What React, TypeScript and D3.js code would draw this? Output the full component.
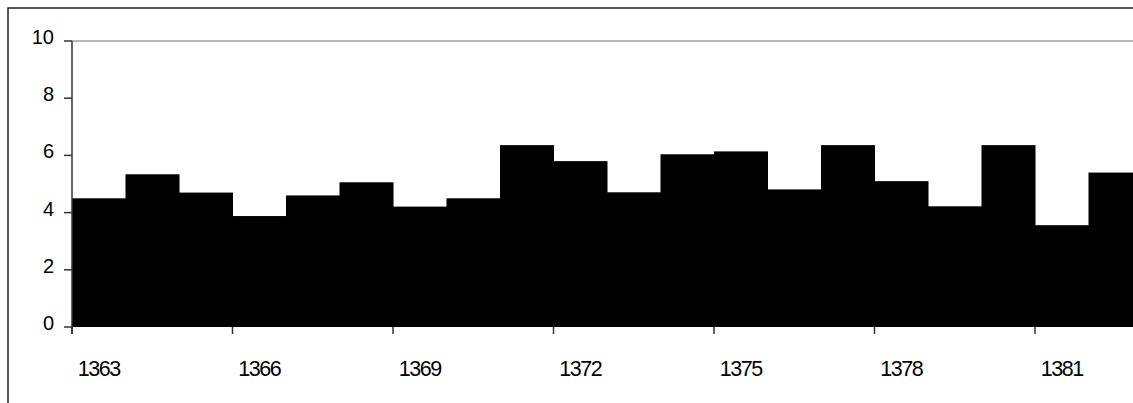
import React from "react";
import * as d3 from "d3";

const years = [1363,1364,1365,1366,1367,1368,1369,1370,1371,1372,1373,1374,1375,1376,1377,1378,1379,1380,1381,1382];
const values = [4.5,5.34,4.7,3.88,4.6,5.06,4.21,4.5,6.36,5.8,4.71,6.04,6.14,4.81,6.36,5.1,4.22,6.36,3.56,5.4];
const yTicks = [0,2,4,6,8,10];
const xLabelYears = [1363,1366,1369,1372,1375,1378,1381];

const W = 1133, H = 403;
const x0 = 72, step = 53.5;

export default function App() {
  const x = d3.scaleBand<number>().domain(years).range([x0, x0 + step * years.length]).padding(0);
  const y = d3.scaleLinear().domain([0, 10]).range([327, 41]);
  const font = "Arial, 'Liberation Sans', sans-serif";
  return (
    <svg width={W} height={H} style={{ position: "absolute", left: 0, top: 0, display: "block" }}>
      <rect x={0} y={0} width={W} height={H} fill="#fff" />
      <rect x={8} y={8} width={W + 20} height={H + 20} fill="none" stroke="#222" strokeWidth={1.5} />
      <line x1={x0} x2={W} y1={y(10)} y2={y(10)} stroke="#a0a0a0" strokeWidth={1.5} />
      {years.map((yr, i) => (
        <rect key={yr} x={x(yr)} y={y(values[i])} width={x.bandwidth() + 0.5} height={y(0) - y(values[i])} fill="#000" />
      ))}
      <line x1={x0} x2={x0} y1={y(10)} y2={y(0) + 7} stroke="#333" strokeWidth={1.5} />
      {yTicks.map(t => (
        <g key={t}>
          <line x1={x0 - 8} x2={x0} y1={y(t)} y2={y(t)} stroke="#333" strokeWidth={1.5} />
          <text x={54} y={y(t) - 4} textAnchor="end" dominantBaseline="central" fontFamily={font} fontSize={20} fill="#000">{t}</text>
        </g>
      ))}
      {xLabelYears.map(yr => (
        <g key={yr}>
          <line x1={x(yr)} x2={x(yr)} y1={y(0)} y2={y(0) + 7} stroke="#333" strokeWidth={1.5} />
          <text x={(x(yr) as number) + x.bandwidth() / 2} y={376} textAnchor="middle" fontFamily={font} fontSize={21.5} letterSpacing={-1.5} fill="#000">{yr}</text>
        </g>
      ))}
    </svg>
  );
}
